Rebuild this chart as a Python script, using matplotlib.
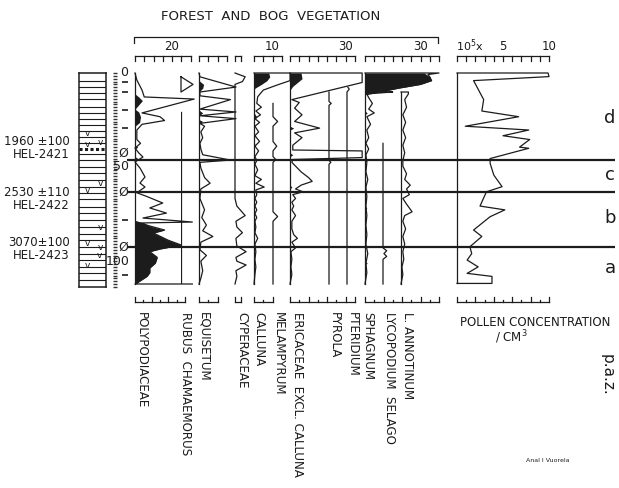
import matplotlib.pyplot as plt
from matplotlib.lines import Line2D
from matplotlib.ticker import MultipleLocator
from matplotlib.transforms import blended_transform_factory as blend

# ---------------- data (depth in cm, values in %) -------------
poly_d = [0, 3.7, 9, 12.6, 13.7, 21, 23, 25, 27, 30, 35, 37, 39.5, 42, 44.2, 46.8, 50, 54.7, 57.9,
          60, 63, 65, 68.4, 71, 73.7, 76.3, 78.4, 78.9, 80.5, 82.6, 84.2, 88, 90.5, 92.6, 94, 97,
          100, 102.6, 105, 107, 110.5, 111, 111]
poly_v = [0, 1, 3.8, 5, 32, 3.8, 13.5, 16, 3.8, 1, 1, 3, 0, 2, 4.3, 0, 2.7, 5.4, 2.7,
          5.4, 1, 6.5, 15, 8, 17, 4.3, 31, 3, 8, 16, 10, 18, 25, 13.5, 8, 12,
          11, 8, 8, 6.5, 1, 0, 31]
poly_bd = [11, 12.6, 14.5, 16.8, 19, 20.5, 23, 26, 28, 38, 39, 40, 44, 45, 46, 77.5, 78.4, 80.5,
           82.6, 84.2, 88, 90.5, 92.6, 94, 97, 100, 102.6, 105, 107, 110.5, 111]
poly_bv = [0, 2, 4, 2, 0, 2, 3, 2.5, 0, 0, 1.5, 0, 0, 1.5, 0, 0, 3, 8,
           16, 10, 18, 25, 13.5, 8, 12, 11, 8, 8, 6.5, 1, 0]

rub_d = [2, 6, 10, 2]
rub_v = [0, 6.5, 0, 0]
rub_line = [20.5, 111]

equi_d = [0, 2, 7.4, 10, 12, 14, 19, 20.5, 22.5, 24, 26.5, 28, 31, 34, 37, 40, 43, 45.8, 47, 50,
          55, 58, 61, 66, 72, 76, 80, 83, 86, 89, 93, 96, 99, 104, 108, 111]
equi_v = [0, 0.5, 20, 0.5, 0.5, 17, 0.5, 20, 0.5, 20, 0.5, 3, 1, 2, 0.5, 1, 2, 17, 0.5, 1,
          3, 6, 1, 0.5, 3, 1.5, 4, 2, 7.5, 1, 0.5, 4, 1, 2, 1, 0]
equi_bd = [4, 6, 8, 10, 19.5, 21, 22.5, 24.5, 25.5, 27]
equi_bv = [0, 2.5, 2, 0, 0, 2, 0, 0, 2, 0]

cyp_d = [0, 2, 4.5, 6, 66, 70, 75, 78, 81, 84, 87, 91, 94, 97, 99, 101, 104, 107, 111]
cyp_v = [0, 5.5, 4, 0, 0, 1, 5.5, 0.5, 1, 4, 0.5, 1, 6, 0.5, 1, 6, 0.5, 1, 0]

cal_d = [0, 0, 4, 6.5, 9, 12.5, 16, 18, 20, 22, 24, 26, 28, 31, 33, 36, 38.5, 41, 44, 46, 48,
         51, 54, 56, 58, 60, 61.5, 64, 66, 68, 70, 72, 74, 76, 78, 81, 84, 87, 90, 94, 98,
         102, 106, 111]
cal_v = [0, 19.5, 19.5, 12, 5, 2, 1.5, 4, 1, 3.5, 0.5, 3, 0.5, 2.5, 0.5, 3, 0.5, 2.5, 0.5, 1.5,
         0.5, 2, 0.5, 4, 1, 5.5, 1, 1.5, 0.5, 1.5, 0.5, 1.5, 0.5, 1.5, 0.5, 1, 0.5, 2, 0.5, 1,
         0.5, 1, 0.5, 0]
cal_bd = [0, 2, 4, 6, 8, 9, 21, 23, 25, 32, 33, 34, 37, 38, 39]
cal_bv = [8, 8.5, 7, 4, 0.5, 0, 0, 1.5, 0, 0, 1, 0, 0, 1, 0]

mel_d = [16, 23, 25.5, 28, 36, 38.5, 41, 44, 45.5, 47, 73, 75.5, 78, 111]
mel_v = [0, 0, 2.5, 0, 0, 2, 0, 0, 1.5, 0, 0, 2.5, 0, 0]

eri_d = [0, 0, 5, 14, 15.5, 18.5, 22, 25.5, 29, 31.5, 34, 38, 40.5, 41, 44.5, 45.5, 47, 49, 52,
         55, 57, 59, 61, 62.5, 64, 66, 68, 70, 72, 75, 78, 82, 85, 87, 89, 92, 94, 98, 102,
         106, 111]
eri_v = [0, 39, 39, 1, 5, 2.5, 6.5, 2.5, 16, 2.5, 6.5, 1.5, 1.5, 39, 39, 1.5, 1, 3, 6,
         10, 12, 6, 3, 7, 1.5, 3, 1, 2, 1, 3, 1, 1, 2, 4, 1, 3, 0.5, 1, 0.5, 1, 0]
eri_bd = [0, 3, 5, 7, 9, 28, 29, 30, 42, 43, 44, 59, 60, 61, 103, 104, 105]
eri_bv = [6, 6.5, 4, 1.5, 0, 0, 2, 0, 0, 1.5, 0, 0, 1, 0, 0, 1, 0]

pyr_d = [10, 15, 16, 17, 46, 47, 48, 111]
pyr_v = [0, 0, 1.2, 0, 0, 1, 0, 0]

pte_d = [7.5, 8.5, 10, 111]
pte_v = [0.5, 1.2, 0, 0]

sph_d = [0, 0, 0.8, 2, 4, 6, 8, 10, 10, 11, 13, 16, 19, 21, 23, 27, 30, 34, 37, 40,
         43, 47, 52, 56, 60, 65, 70, 75, 80, 85, 90, 95, 100, 105, 111]
sph_v = [0, 40, 34, 35, 36, 30, 18, 8, 15, 1, 2, 4, 2, 5, 1, 3, 1, 2, 0.5, 2,
         0.5, 1, 0.5, 1.5, 0.5, 1, 0.5, 1, 0.5, 1, 0.5, 1.5, 0.5, 1, 0]
sph_bd = [0, 2, 4, 6, 8, 10, 11.5, 20, 21, 22, 45, 46, 47, 70, 71, 72, 99, 100, 101]
sph_bv = [32, 35, 36, 30, 18, 8, 0, 0, 1.2, 0, 0, 1.2, 0, 0, 1, 0, 0, 1.2, 0]

lyc_d = [37, 92, 93.5, 95, 96.5, 98, 111]
lyc_v = [0, 0, 2, 0.5, 2, 0, 0]

ann_d = [10, 10, 11, 14, 18, 22, 26, 30, 34, 38, 42, 46, 49, 53, 56, 59, 61, 64, 66, 69,
         73, 75, 78, 82, 86, 90, 94, 98, 102, 106, 111]
ann_v = [0, 4, 4, 2, 3, 1, 2.5, 1, 2.5, 1, 2, 1, 1, 3, 2, 5, 3, 4.5, 1, 3,
         6, 2, 1, 2.5, 1, 2, 1, 1.5, 0.5, 1, 0]

# pollen concentration, x 10^5 / cm3
conc_d = [0, 0, 1.9, 4, 14, 20, 23, 28, 30, 33, 35, 39, 39.6, 45, 47.5, 53.7, 59.8, 62.5, 70, 72,
          75.6, 82.6, 86, 91.4, 95, 98.4, 102, 105.4, 107, 110.7, 110.7]
conc_v = [0, 9.9, 10, 1.8, 2.9, 2.7, 6.7, 0.9, 7.8, 5.0, 7.9, 6.8, 7.8, 3.6, 3.6, 4.0, 4.9, 3.2,
          2.5, 5.2, 3.6, 1.8, 2.7, 1.4, 1.6, 1.1, 2.3, 1.1, 3.8, 3.8, 0]

zone_d = [45.8, 62.6, 91.6]
zone_names = ['d', 'c', 'b', 'a']
zone_mid = [23.7, 53.7, 76.3, 102.6]

dates = ['1960 \u00b1100', '2530 \u00b1110', '3070\u00b1100']
labs = ['HEL-2421', 'HEL-2422', 'HEL-2423']
date_d = [39.2, 66, 92.4]

litho_d = [4.0, 7.2, 10.3, 13.9, 17.7, 21.2, 24.4, 27.5, 30.5, 33.5, 37, 42.8, 45.8, 49.3,
           52.8, 56.3, 59.8, 63.3, 66.5, 70.4, 73.8, 77.4, 80.9, 84.4, 87.9, 91.4, 94.9,
           98.4, 101.9, 105.4, 108.9]
dotted_d = 40.2
v_d = [34.2, 40, 39, 60.5, 64, 83.7, 92, 94, 98.4, 103.7]
v_x = [0.33, 0.3, 0.78, 0.78, 0.3, 0.78, 0.33, 0.78, 0.74, 0.3]

sample_d = [4.7, 10, 19.5, 29, 77.4, 106]
c14_d = [42, 62.6, 91.6]

taxa = ['POLYPODIACEAE', 'RUBUS  CHAMAEMORUS', 'EQUISETUM', 'CYPERACEAE', 'CALLUNA',
        'MELAMPYRUM', 'ERICACEAE  EXCL. CALLUNA', 'PYROLA', 'PTERIDIUM', 'SPHAGNUM',
        'LYCOPODIUM  SELAGO', 'L. ANNOTINUM']

# ---------------- layout ----------------
INK = '#1c1c1c'
W, H = 619, 488
Y0, Y1 = 73, 284      # pixel rows of depth 0 and DMAX
DMAX = 111.0
PCT = 1.85            # pixels per percent

plt.rcParams['font.family'] = 'DejaVu Sans'
fig = plt.figure(figsize=(W / 100, H / 100), dpi=100)


def fx(px):
    return px / W


def fy(py):
    return 1 - py / H


def panel(x0, width, scale=PCT):
    ax = fig.add_axes([fx(x0), fy(Y1), width / W, (Y1 - Y0) / H])
    ax.set_xlim(0, width / scale)
    ax.set_ylim(DMAX, 0)
    ax.axis('off')
    return ax


def draw(ax, d, v, bd=None, bv=None, base=True):
    if bd is not None:
        ax.fill_betweenx(bd, 0, bv, color=INK, lw=0, clip_on=False)
    if base:
        ax.plot([0, 0], [d[0], d[-1]], color=INK, lw=0.9, clip_on=False)
    ax.plot(v, d, color=INK, lw=0.9, clip_on=False)


def ruler(ax, vmax, step, ypx, up=False, alt=False):
    tr = blend(ax.transData, fig.transFigure)
    y = fy(ypx)
    ax.plot([0, vmax], [y, y], transform=tr, color=INK, lw=0.9, clip_on=False)
    n = int(round(vmax / step))
    for i in range(n + 1):
        ln = 5 if (not alt or i % 2 == 0 or i == n) else 2.5
        y2 = fy(ypx - ln) if up else fy(ypx + ln)
        ax.plot([i * step] * 2, [y, y2], transform=tr, color=INK, lw=0.9, clip_on=False)


# zone lines behind everything
axz = fig.add_axes([fx(127), fy(Y1), (615 - 127) / W, (Y1 - Y0) / H])
axz.set_xlim(0, 1)
axz.set_ylim(DMAX, 0)
axz.axis('off')
for d in zone_d:
    axz.axhline(d, color=INK, lw=1.6)
tz = blend(fig.transFigure, axz.transData)
for name, d in zip(zone_names, zone_mid):
    axz.text(fx(610), d, name, transform=tz, ha='center', va='center', fontsize=13, color=INK)

ax_poly = panel(135, 64)
draw(ax_poly, poly_d, poly_v, poly_bd, poly_bv)
ax_rub = panel(181, 20)
draw(ax_rub, rub_d, rub_v, base=False)
ax_rub.plot([0, 0], rub_line, color=INK, lw=0.9)
ax_equi = panel(199, 40)
draw(ax_equi, equi_d, equi_v, equi_bd, equi_bv)
ax_cyp = panel(235, 20)
draw(ax_cyp, cyp_d, cyp_v, base=False)
ax_cal = panel(254, 40)
draw(ax_cal, cal_d, cal_v, cal_bd, cal_bv)
ax_mel = panel(273, 16)
draw(ax_mel, mel_d, mel_v, base=False)
ax_eri = panel(290, 75)
draw(ax_eri, eri_d, eri_v, eri_bd, eri_bv)
ax_pyr = panel(329, 16)
draw(ax_pyr, pyr_d, pyr_v, base=False)
ax_pte = panel(347, 16)
draw(ax_pte, pte_d, pte_v, base=False)
ax_sph = panel(365, 80)
draw(ax_sph, sph_d, sph_v, sph_bd, sph_bv)
ax_lyc = panel(383, 16)
draw(ax_lyc, lyc_d, lyc_v, base=False)
ax_ann = panel(401, 20)
draw(ax_ann, ann_d, ann_v)
ax_conc = panel(457, 100, scale=9.2)
draw(ax_conc, conc_d, conc_v)

# scale rulers, top and bottom
for ax, vmax, step in [(ax_poly, 30, 5), (ax_equi, 15, 5), (ax_cyp, 3.5, 3.5), (ax_cal, 15, 5),
                       (ax_eri, 35, 5), (ax_sph, 40, 5), (ax_conc, 10, 1)]:
    ruler(ax, vmax, step, 56)
for ax, vmax, step in [(ax_poly, 27, 4.5), (ax_equi, 10, 5), (ax_cyp, 3.5, 3.5), (ax_cal, 10, 5),
                       (ax_eri, 35, 5), (ax_sph, 40, 5), (ax_conc, 10, 1)]:
    ruler(ax, vmax, step, 302, up=True, alt=True)

for ax, val, s in [(ax_poly, 20, '20'), (ax_cal, 10, '10'), (ax_eri, 30, '30'), (ax_sph, 30, '30'),
                   (ax_conc, 5, '5'), (ax_conc, 10, '10')]:
    ax.text(val, fy(47), s, transform=blend(ax.transData, fig.transFigure),
            ha='center', va='center', fontsize=8.5, color=INK)
ax_conc.text(1.4, fy(46), '10$^5$x', transform=blend(ax_conc.transData, fig.transFigure),
             ha='center', va='center', fontsize=8, color=INK)

# bracket over the percentage diagram
fig.add_artist(Line2D([fx(134), fx(134), fx(438), fx(438)], [fy(43), fy(37), fy(37), fy(43)],
                      color=INK, lw=0.9))
fig.text(fx(271), fy(17), 'FOREST  AND  BOG  VEGETATION', ha='center', va='center',
         fontsize=9.5, color=INK)

# lithology column
axl = fig.add_axes([fx(79), fy(287), 27 / W, (287 - 73) / H])
axl.set_xlim(0, 1)
axl.set_ylim(112.5, 0)
axl.set_xticks([])
axl.set_yticks([])
for s in axl.spines.values():
    s.set_linewidth(1.1)
    s.set_color(INK)
for d in litho_d:
    axl.plot([0, 1], [d, d], color=INK, lw=0.8)
axl.plot([0, 1], [dotted_d, dotted_d], color=INK, lw=2.2, ls=(0, (1, 0.8)))
for x, d in zip(v_x, v_d):
    axl.text(x, d, 'v', ha='center', va='bottom', fontsize=6.5, color=INK)

# depth scale: fine dashes every 1.5 cm, drawn in the label axes
axd = fig.add_axes([fx(112), fy(287), 5 / W, (287 - 73) / H])
axd.set_xlim(0, 1)
axd.set_ylim(112.5, 0)
axd.axis('off')
td = blend(fig.transFigure, axd.transData)
dash_d = [d for d in MultipleLocator(1.5).tick_values(0, 112.5) if 0 <= d <= 112.5]
axd.plot([fx(114.5)] * len(dash_d), dash_d, transform=td, ls='none', marker='_',
         markersize=3.2, markeredgewidth=1.0, color='#333333', clip_on=False)
for d, s, x in [(0, '0', 124), (49, '50', 121), (99, '100', 118)]:
    axd.text(fx(x), d, s, transform=td, ha='center', va='center', fontsize=9, color=INK)
for d in c14_d:
    axd.text(fx(123), d, '\u00d8', transform=td, ha='center', va='center', fontsize=9, color=INK)
axd.plot([fx(125)] * len(sample_d), sample_d, transform=td, ls='none', marker='_',
         markersize=4, markeredgewidth=1.2, color=INK, clip_on=False)

# radiocarbon dates
for s, lab, d in zip(dates, labs, date_d):
    axd.text(fx(70), d, s, transform=td, ha='right', va='bottom', fontsize=8.5, color=INK)
    axd.text(fx(70), d, lab, transform=td, ha='right', va='top', fontsize=8.5, color=INK)

# taxon names
lab_x = [141, 186, 204, 242, 259, 278, 298, 334, 352, 368, 389, 407]
for x, name in zip(lab_x, taxa):
    fig.text(fx(x), fy(312), name, rotation=270, ha='center', va='top', fontsize=8.6, color=INK)

fig.text(fx(535), fy(322), 'POLLEN CONCENTRATION', ha='center', va='center', fontsize=8.5, color=INK)
fig.text(fx(511), fy(337), '/ CM$^3$', ha='center', va='center', fontsize=8.5, color=INK)
fig.text(fx(607), fy(354), 'p.a.z.', rotation=270, ha='center', va='top', fontsize=11, color=INK)
fig.text(fx(548), fy(461), 'Anal I Vuorela', ha='center', va='center', fontsize=4.5, color=INK)

fig.savefig('out.png', dpi=100, facecolor='white')
